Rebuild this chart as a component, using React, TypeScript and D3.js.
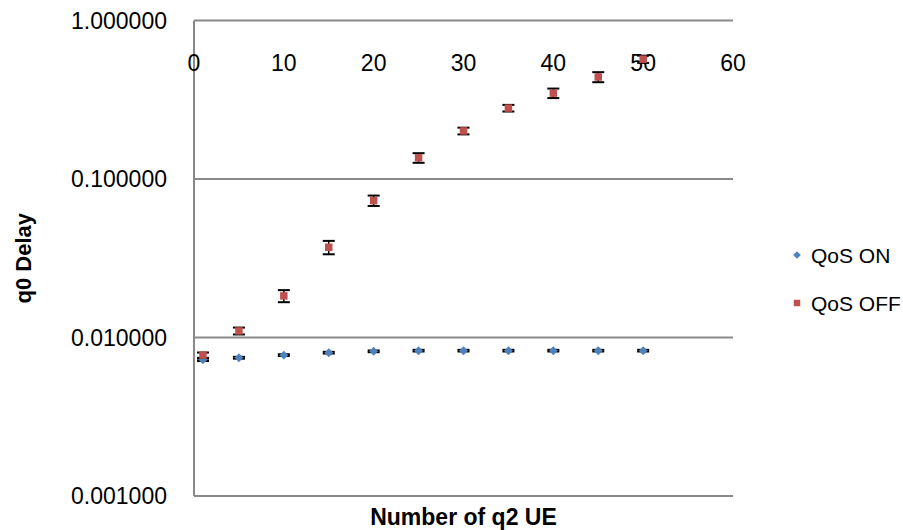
import * as d3 from "d3";

const ueCounts = [1, 5, 10, 15, 20, 25, 30, 35, 40, 45, 50];
const qosOn = [0.00723, 0.00745, 0.00774, 0.00802, 0.00818, 0.00826, 0.00826, 0.00826, 0.00826, 0.00826, 0.00826];
const qosOnErr = [0.00012, 0.0001, 0.0001, 0.0001, 0.0001, 0.0001, 0.0001, 0.0001, 0.0001, 0.0001, 0.0001];
const qosOff = [0.00774, 0.011, 0.0183, 0.0371, 0.0731, 0.136, 0.201, 0.28, 0.348, 0.44, 0.57];
const qosOffErr = [0.0003, 0.00055, 0.0016, 0.0036, 0.0055, 0.0095, 0.0098, 0.0135, 0.024, 0.032, 0.03];
const xTicks = [0, 10, 20, 30, 40, 50, 60];
const yTicks = [1, 0.1, 0.01, 0.001];

const W = 903;
const H = 530;
const FONT = "'Liberation Sans', Arial, sans-serif";
const AXIS = "#898989";
const BLUE = "#4F81BD";
const RED = "#C0504D";

// square markers; the diamond is the same square turned 45 degrees
const marker = (kind: string, size: number) => {
  const path = d3.symbol().type(d3.symbolSquare).size(size)()!;
  return { d: path, rot: kind === "diamond" ? 45 : 0 };
};

export default function App() {
  const x = d3.scaleLinear().domain([0, 60]).range([194, 733]);
  const y = d3.scaleLog().domain([0.001, 1]).range([496, 20.5]);

  const series = [
    { name: "QoS ON", values: qosOn, err: qosOnErr, color: BLUE, kind: "diamond", size: 40 },
    { name: "QoS OFF", values: qosOff, err: qosOffErr, color: RED, kind: "square", size: 56 },
  ];

  const capW = 6;

  return (
    <svg width={W} height={H} style={{ position: "absolute", left: 0, top: 0, background: "#fff" }}>
      {/* gridlines */}
      {yTicks.map((t) => (
        <line key={"g" + t} x1={x(0)} x2={x(60)} y1={y(t)} y2={y(t)} stroke={AXIS} strokeWidth={2} />
      ))}
      <line x1={x(0)} x2={x(0)} y1={y(1)} y2={y(0.001)} stroke={AXIS} strokeWidth={2} />

      {/* y tick labels */}
      {yTicks.map((t) => (
        <text key={"yl" + t} x={167} y={y(t)} textAnchor="end" dominantBaseline="central"
          fontFamily={FONT} fontSize={23} fill="#000">
          {d3.format(".6f")(t)}
        </text>
      ))}

      {/* x tick labels (axis crosses at top) */}
      {xTicks.map((t) => (
        <text key={"xl" + t} x={x(t)} y={71} textAnchor="middle" fontFamily={FONT} fontSize={23} fill="#000">
          {t}
        </text>
      ))}

      {/* data with error bars */}
      {series.map((s) => {
        const m = marker(s.kind, s.size);
        return (
          <g key={s.name}>
            {ueCounts.map((u, i) => {
              const cx = x(u);
              const lo = y(s.values[i] - s.err[i]);
              const hi = y(s.values[i] + s.err[i]);
              return (
                <g key={i}>
                  <line x1={cx} x2={cx} y1={lo} y2={hi} stroke="#000" strokeWidth={1.5} />
                  <line x1={cx - capW} x2={cx + capW} y1={lo} y2={lo} stroke="#000" strokeWidth={2} />
                  <line x1={cx - capW} x2={cx + capW} y1={hi} y2={hi} stroke="#000" strokeWidth={2} />
                </g>
              );
            })}
            {ueCounts.map((u, i) => (
              <path key={"m" + i} d={m.d}
                transform={`translate(${x(u)},${y(s.values[i])}) rotate(${m.rot})`}
                fill={s.color} />
            ))}
          </g>
        );
      })}

      {/* axis titles */}
      <text x={(x(0) + x(60)) / 2} y={525} textAnchor="middle" fontFamily={FONT} fontSize={23} fontWeight="bold">
        Number of q2 UE
      </text>
      <text transform={`translate(31,${(y(1) + y(0.001)) / 2}) rotate(-90)`} textAnchor="middle"
        fontFamily={FONT} fontSize={22} fontWeight="bold">
        q0 Delay
      </text>

      {/* legend */}
      {series.map((s, i) => {
        const m = marker(s.kind, s.kind === "diamond" ? 30 : 42);
        return (
          <g key={"lg" + s.name} transform={`translate(797,${255 + i * 48})`}>
            <path d={m.d} transform={`rotate(${m.rot})`} fill={s.color} />
            <text x={14} y={0} dominantBaseline="central" fontFamily={FONT} fontSize={21}>
              {s.name}
            </text>
          </g>
        );
      })}
    </svg>
  );
}
